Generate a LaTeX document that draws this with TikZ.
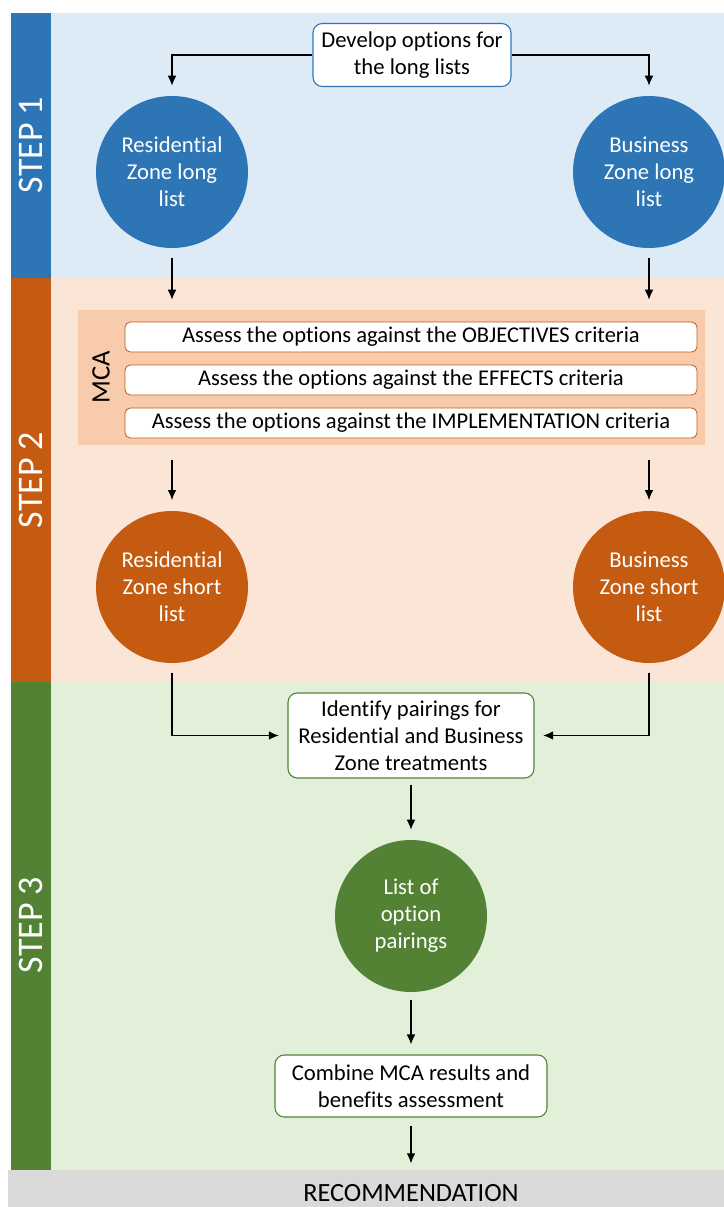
\documentclass[tikz,border=0pt]{standalone}
\usepackage{fontspec}
\setmainfont{Carlito}[Ligatures=NoCommon]
\usetikzlibrary{arrows.meta}
\definecolor{stepblue}{HTML}{2E75B6}
\definecolor{steporange}{HTML}{C55A11}
\definecolor{stepgreen}{HTML}{548235}
\definecolor{bandblue}{HTML}{DDEBF7}
\definecolor{bandpeach}{HTML}{FBE5D6}
\definecolor{bandgreen}{HTML}{E2F0D9}
\definecolor{mcapeach}{HTML}{F8CBAD}
\definecolor{recgray}{HTML}{D9D9D9}
\tikzset{
  steplabel/.style={rotate=90,text=white,font=\fontsize{27}{30}\selectfont},
  zone/.style={circle,fill=#1,text=white,minimum size=114pt,inner sep=0pt,
    align=center,font=\fontsize{17}{20.25}\selectfont},
  task/.style={draw=#1,fill=white,rounded corners=7pt,line width=0.8pt,
    align=center,inner sep=0pt,font=\fontsize{17}{20.25}\selectfont},
  criterion/.style={draw=steporange,fill=white,rounded corners=4pt,line width=0.6pt,
    minimum width=429pt,minimum height=22.5pt,inner sep=0pt,
    font=\fontsize{16.9}{18}\selectfont},
  flow/.style={-{Latex[length=7.5pt,width=6.5pt]},line width=0.9pt}
}
\begin{document}
\begin{tikzpicture}[x=0.75pt,y=-0.75pt]
  \useasboundingbox (0,0) rectangle (724,1207);
  % bands
  \fill[bandblue] (51,13) rectangle (724,278);
  \fill[bandpeach] (51,278) rectangle (724,682);
  \fill[bandgreen] (51,682) rectangle (724,1170);
  \fill[stepblue] (11,13) rectangle (51,278);
  \fill[steporange] (11,278) rectangle (51,682);
  \fill[stepgreen] (11,682) rectangle (51,1172);
  \fill[recgray] (8,1170) rectangle (724,1207);
  \node[steplabel] (step1) at (31,145) {STEP 1};
  \node[steplabel] (step2) at (31,480) {STEP 2};
  \node[steplabel] (step3) at (31,925) {STEP 3};

  % step 1
  \node[task=stepblue,minimum width=148.5pt,minimum height=47.25pt] (develop)
    at (412,55) {Develop options for\\the long lists};
  \node[zone=stepblue] (reslong) at (172,172) {Residential\\Zone long\\list};
  \node[zone=stepblue] (buslong) at (649,172) {Business\\Zone long\\list};

  % step 2
  \node[fill=mcapeach,minimum width=470.25pt,minimum height=101.25pt] (mca)
    at (391.5,377.5) {};
  \node[rotate=90,font=\fontsize{20}{22}\selectfont] (mcalabel) at (101,377) {MCA};
  \node[criterion] (objectives) at (411,337) {Assess the options against the OBJECTIVES criteria};
  \node[criterion] (effects) at (411,380) {Assess the options against the EFFECTS criteria};
  \node[criterion] (implementation) at (411,423) {Assess the options against the IMPLEMENTATION criteria};
  \node[zone=steporange] (resshort) at (172,587) {Residential\\Zone short\\list};
  \node[zone=steporange] (busshort) at (649,587) {Business\\Zone short\\list};

  % step 3
  \node[task=stepgreen,minimum width=184.5pt,minimum height=63.75pt] (pairing)
    at (411,735.5) {Identify pairings for\\Residential and Business\\Zone treatments};
  \node[zone=stepgreen] (pairlist) at (411,916) {List of\\option\\pairings};
  \node[task=stepgreen,minimum width=204pt,minimum height=46.5pt] (combine)
    at (411,1086) {Combine MCA results and\\benefits assessment};
  \node[font=\fontsize{19.7}{22}\selectfont] (rec) at (411,1193) {RECOMMENDATION};
  \coordinate (rectop) at (411,1170);

  % connectors
  \draw[flow,shorten >=7.5pt] (develop) -| (reslong);
  \draw[flow,shorten >=7.5pt] (develop) -| (buslong);
  \draw[flow,shorten <=7.5pt,shorten >=7.5pt] (reslong) -- (reslong |- mca.north);
  \draw[flow,shorten <=7.5pt,shorten >=7.5pt] (buslong) -- (buslong |- mca.north);
  \draw[flow,shorten <=11pt,shorten >=8pt] (reslong |- mca.south) -- (resshort);
  \draw[flow,shorten <=11pt,shorten >=8pt] (buslong |- mca.south) -- (busshort);
  \draw[flow,shorten <=7pt,shorten >=6.5pt] (resshort) |- (pairing);
  \draw[flow,shorten <=7pt,shorten >=6.5pt] (busshort) |- (pairing);
  \draw[flow,shorten <=5pt,shorten >=7.5pt] (pairing) -- (pairlist);
  \draw[flow,shorten <=6pt,shorten >=7.5pt] (pairlist) -- (combine);
  \draw[flow,shorten <=6pt,shorten >=5pt] (combine) -- (rectop);
\end{tikzpicture}
\end{document}
